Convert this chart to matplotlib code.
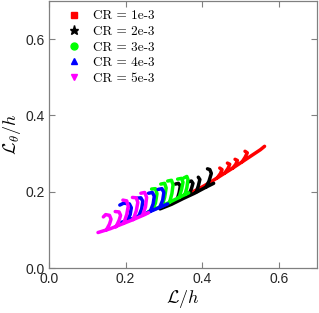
import numpy as np
import matplotlib
matplotlib.use("Agg")
import matplotlib.pyplot as plt
from matplotlib.lines import Line2D

nan = np.nan

# ---- data ----
labels = ["CR = 1e-3", "CR = 2e-3", "CR = 3e-3", "CR = 4e-3", "CR = 5e-3"]
colors = ["#ff0000", "#000000", "#00ff00", "#0000ff", "#ff00ff"]
markers = ["s", "*", "o", "^", "v"]

# CR = 1e-3 (red): backbone + hooks, NaN separates strokes
red_x = [0.370, 0.394, 0.420, 0.450, 0.480, 0.510, 0.540, 0.552, 0.563, nan,
         0.440, 0.448, 0.452, 0.446, nan,
         0.460, 0.468, 0.472, 0.466, nan,
         0.480, 0.488, 0.492, 0.486, nan,
         0.505, 0.512, 0.518, 0.512]
red_y = [0.197, 0.209, 0.224, 0.243, 0.262, 0.282, 0.302, 0.310, 0.319, nan,
         0.237, 0.248, 0.258, 0.262, nan,
         0.250, 0.262, 0.272, 0.275, nan,
         0.262, 0.272, 0.282, 0.285, nan,
         0.279, 0.290, 0.302, 0.306]

# CR = 2e-3 (black)
blk_x = [0.290, 0.320, 0.350, 0.380, 0.410, 0.430, nan,
         0.335, 0.340, 0.343, 0.338, 0.330, nan,
         0.365, 0.372, 0.376, 0.372, 0.364, nan,
         0.385, 0.390, 0.394, 0.390, nan,
         0.410, 0.418, 0.424, 0.420, 0.414]
blk_y = [0.155, 0.167, 0.182, 0.196, 0.212, 0.222, nan,
         0.180, 0.198, 0.215, 0.222, 0.220, nan,
         0.192, 0.208, 0.222, 0.228, 0.226, nan,
         0.200, 0.215, 0.232, 0.238, nan,
         0.212, 0.228, 0.248, 0.258, 0.260]

# CR = 3e-3 (green)
grn_x = [0.260, 0.290, 0.320, 0.350, 0.365, nan,
         0.270, 0.278, 0.282, 0.278, 0.268, nan,
         0.295, 0.302, 0.306, 0.302, 0.292, nan,
         0.315, 0.321, 0.324, 0.320, 0.310, nan,
         0.340, 0.346, 0.350, 0.346, 0.336, nan,
         0.355, 0.360, 0.363, 0.360, 0.352]
grn_y = [0.148, 0.160, 0.175, 0.190, 0.197, nan,
         0.152, 0.170, 0.195, 0.208, 0.207, nan,
         0.162, 0.185, 0.210, 0.222, 0.220, nan,
         0.172, 0.195, 0.218, 0.230, 0.228, nan,
         0.185, 0.205, 0.225, 0.235, 0.233, nan,
         0.193, 0.210, 0.232, 0.240, 0.236]

# CR = 4e-3 (blue)
blu_x = [0.190, 0.220, 0.250, 0.280, 0.310, nan,
         0.205, 0.212, 0.215, 0.210, 0.195, 0.185, nan,
         0.235, 0.242, 0.245, 0.240, 0.230, nan,
         0.265, 0.272, 0.275, 0.270, 0.260, nan,
         0.290, 0.297, 0.300, 0.295, 0.285]
blu_y = [0.120, 0.130, 0.142, 0.155, 0.168, nan,
         0.126, 0.140, 0.158, 0.168, 0.170, 0.165, nan,
         0.137, 0.155, 0.175, 0.184, 0.183, nan,
         0.150, 0.168, 0.188, 0.198, 0.196, nan,
         0.161, 0.178, 0.198, 0.208, 0.206]

# CR = 5e-3 (magenta)
mag_x = [0.128, 0.160, 0.190, 0.220, 0.250, 0.260, nan,
         0.150, 0.158, 0.162, 0.158, 0.148, 0.142, nan,
         0.175, 0.183, 0.187, 0.183, 0.173, nan,
         0.195, 0.203, 0.207, 0.203, 0.193, nan,
         0.220, 0.228, 0.232, 0.228, 0.218, nan,
         0.245, 0.252, 0.255, 0.250, 0.240]
mag_y = [0.093, 0.103, 0.115, 0.127, 0.140, 0.145, nan,
         0.100, 0.115, 0.128, 0.138, 0.140, 0.134, nan,
         0.108, 0.125, 0.138, 0.147, 0.148, nan,
         0.117, 0.140, 0.162, 0.176, 0.178, nan,
         0.127, 0.150, 0.172, 0.184, 0.185, nan,
         0.140, 0.160, 0.185, 0.198, 0.196]

series_x = [red_x, blk_x, grn_x, blu_x, mag_x]
series_y = [red_y, blk_y, grn_y, blu_y, mag_y]

xticks = [0.0, 0.2, 0.4, 0.6]
yticks = [0.0, 0.2, 0.4, 0.6]

# ---- figure ----
plt.rcParams["mathtext.fontset"] = "cm"
fig = plt.figure(figsize=(3.19, 3.13), dpi=100)
ax = fig.add_axes([49 / 319, 1 - 268 / 313, 268 / 319, 267 / 313])

order = [1, 0, 2, 3, 4]
for i in order:
    ax.plot(series_x[i], series_y[i], color=colors[i], lw=2.5,
            solid_capstyle="round", solid_joinstyle="round", zorder=2 + i)

ax.set_xlim(0, 0.7)
ax.set_ylim(0, 0.7)
ax.set_xticks(xticks)
ax.set_yticks(yticks)
ax.set_xticklabels([f"{t:.1f}" for t in xticks])
ax.set_yticklabels([f"{t:.1f}" for t in yticks])
ax.tick_params(direction="in", length=4, width=0.8, color="#808080",
               top=True, right=True, labelsize=10, labelcolor="#262626", pad=3)
for tl in ax.get_xticklabels() + ax.get_yticklabels():
    tl.set_family("Liberation Sans")
for s in ax.spines.values():
    s.set_color("#808080")
    s.set_linewidth(0.9)

ax.set_xlabel(r"$\mathcal{L}/h$", fontsize=13, labelpad=1)
ax.set_ylabel(r"$\mathcal{L}_\theta/h$", fontsize=13, labelpad=2)

handles = [Line2D([], [], color=colors[i], marker=markers[i], ls="none",
                  markersize=(6.5 if markers[i] == "*" else 5))
           for i in range(5)]
leg = ax.legend(handles, labels, loc="upper left", frameon=False,
                bbox_to_anchor=(0.025, 1.01), handlelength=1.0,
                handletextpad=0.9, labelspacing=0.25,
                prop={"family": "cmr10", "size": 9.5})

fig.savefig("out.png", dpi=100)
